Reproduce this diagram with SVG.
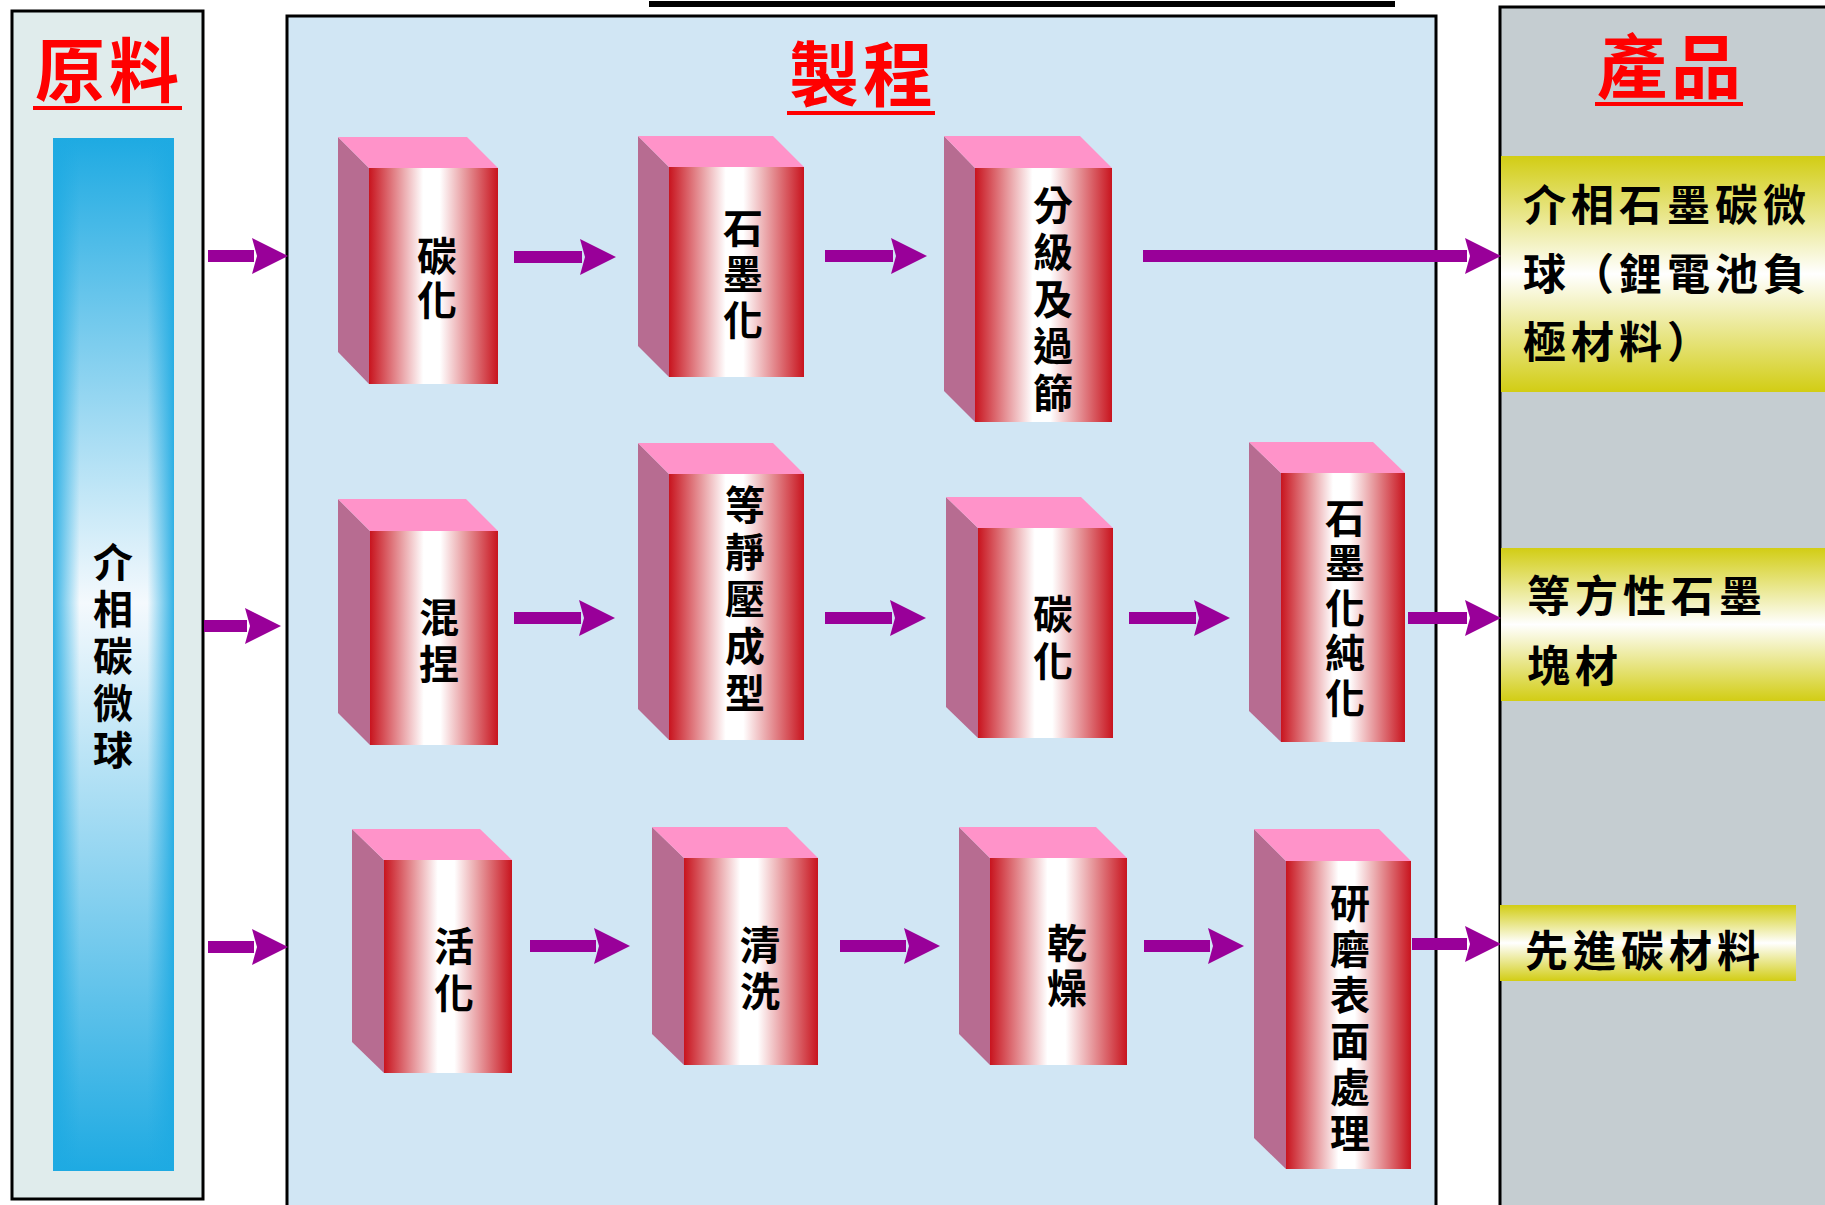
<svg xmlns="http://www.w3.org/2000/svg" width="1825" height="1205" viewBox="0 0 1825 1205">
<defs>
<linearGradient id="front" x1="0" y1="0" x2="1" y2="0">
<stop offset="0" stop-color="#c8141e"/>
<stop offset="0.42" stop-color="#ffffff"/>
<stop offset="0.55" stop-color="#ffffff"/>
<stop offset="1" stop-color="#c8141e"/>
</linearGradient>
<linearGradient id="prod" x1="0" y1="0" x2="0" y2="1">
<stop offset="0" stop-color="#d2cd14"/>
<stop offset="0.5" stop-color="#ffffff"/>
<stop offset="1" stop-color="#d2cd14"/>
</linearGradient>
<linearGradient id="barV" x1="0" y1="0" x2="0" y2="1">
<stop offset="0" stop-color="#1eaae2"/>
<stop offset="0.45" stop-color="#f4f9fd"/>
<stop offset="1" stop-color="#1eaae2"/>
</linearGradient>
<linearGradient id="barH" x1="0" y1="0" x2="1" y2="0">
<stop offset="0" stop-color="#1eaae2" stop-opacity="0.9"/>
<stop offset="0.22" stop-color="#1eaae2" stop-opacity="0"/>
<stop offset="0.78" stop-color="#1eaae2" stop-opacity="0"/>
<stop offset="1" stop-color="#1eaae2" stop-opacity="0.9"/>
</linearGradient>
<marker id="ah" markerUnits="userSpaceOnUse" markerWidth="36" markerHeight="38" refX="2" refY="18" orient="auto" viewBox="0 0 36 36">
<path d="M0,0 L36,18 L0,36 L5,18 Z" fill="#990099"/>
</marker>
<style>
.panel{stroke:#000;stroke-width:3}
.title{font-family:"Noto Sans CJK TC","Noto Sans CJK SC",sans-serif;font-weight:700;font-size:70px;fill:#ff0000;text-anchor:middle;letter-spacing:4px}
.uline{fill:#ff0000}
.side{fill:#b76c91}
.top{fill:#ff93c9}
.front{fill:url(#front)}
.vl{font-family:"Noto Sans CJK TC","Noto Sans CJK SC",sans-serif;font-weight:700;font-size:40px;fill:#000;text-anchor:middle;writing-mode:vertical-rl;letter-spacing:6px}
.ptxt{font-family:"Noto Sans CJK TC","Noto Sans CJK SC",sans-serif;font-weight:700;font-size:43px;fill:#000;letter-spacing:5px}
.conn line{stroke:#990099;stroke-width:12;marker-end:url(#ah)}
.prod{fill:url(#prod)}
</style>
</defs>

<!-- panels -->
<g id="panel-raw">
<rect class="panel" x="12" y="11" width="191" height="1188" fill="#e0ecec"/>
<text class="title" x="109" y="97">原料</text>
<rect class="uline" x="33" y="106" width="149" height="4"/>
</g>
<rect x="649" y="1" width="746" height="6" fill="#000"/>
<g id="panel-process">
<rect class="panel" x="287" y="16" width="1149" height="1192" fill="#d1e6f4" stroke-width="2.5"/>
<text class="title" x="863" y="101">製程</text>
<rect class="uline" x="787" y="111" width="148" height="4"/>
</g>
<g id="panel-product">
<rect class="panel" x="1500" y="7" width="340" height="1210" fill="#c5cdd1"/>
<text class="title" x="1671" y="93">產品</text>
<rect class="uline" x="1595" y="102" width="148" height="4"/>
</g>

<!-- raw material bar -->
<g id="raw-bar">
<rect x="53" y="138" width="121" height="1033" fill="url(#barV)"/>
<rect x="53" y="138" width="121" height="1033" fill="url(#barH)"/>
<text class="vl" x="113" y="659" style="letter-spacing:7px">介相碳微球</text>
</g>

<!-- connectors -->
<g id="connectors" class="conn">
<line x1="208" y1="256" x2="254" y2="256"/>
<line x1="204" y1="626" x2="247" y2="626"/>
<line x1="208" y1="947" x2="254" y2="947"/>
<line x1="514" y1="257" x2="582" y2="257"/>
<line x1="825" y1="256" x2="893" y2="256"/>
<line x1="1143" y1="256" x2="1467" y2="256"/>
<line x1="514" y1="618" x2="581" y2="618"/>
<line x1="825" y1="618" x2="892" y2="618"/>
<line x1="1129" y1="618" x2="1196" y2="618"/>
<line x1="1408" y1="618" x2="1467" y2="618"/>
<line x1="530" y1="946" x2="596" y2="946"/>
<line x1="840" y1="946" x2="906" y2="946"/>
<line x1="1144" y1="946" x2="1210" y2="946"/>
<line x1="1412" y1="944" x2="1467" y2="944"/>
</g>

<!-- process boxes -->
<g id="box-carbonize1">
<polygon class="side" points="338,137 369,168 369,384 338,352"/>
<polygon class="top" points="338,137 467,137 498,168 369,168"/>
<rect class="front" x="369" y="168" width="129" height="216"/>
<text class="vl" x="437" y="280" style="letter-spacing:4px">碳化</text>
</g>
<g id="box-graphitize1">
<polygon class="side" points="638,136 669,167 669,377 638,346"/>
<polygon class="top" points="638,136 773,136 804,167 669,167"/>
<rect class="front" x="669" y="167" width="135" height="210"/>
<text class="vl" x="743" y="277">石墨化</text>
</g>
<g id="box-classify">
<polygon class="side" points="944,136 975,168 975,422 944,391"/>
<polygon class="top" points="944,136 1080,136 1112,168 975,168"/>
<rect class="front" x="975" y="168" width="137" height="254"/>
<text class="vl" x="1053" y="302" style="letter-spacing:7px">分級及過篩</text>
</g>
<g id="box-knead">
<polygon class="side" points="338,499 370,531 370,745 338,713"/>
<polygon class="top" points="338,499 466,499 498,531 370,531"/>
<rect class="front" x="370" y="531" width="128" height="214"/>
<text class="vl" x="439" y="644" style="letter-spacing:7px">混捏</text>
</g>
<g id="box-isostatic">
<polygon class="side" points="638,443 669,474 669,740 638,709"/>
<polygon class="top" points="638,443 773,443 804,474 669,474"/>
<rect class="front" x="669" y="474" width="135" height="266"/>
<text class="vl" x="745" y="602" style="letter-spacing:7px">等靜壓成型</text>
</g>
<g id="box-carbonize2">
<polygon class="side" points="946,497 978,528 978,738 946,707"/>
<polygon class="top" points="946,497 1081,497 1113,528 978,528"/>
<rect class="front" x="978" y="528" width="135" height="210"/>
<text class="vl" x="1053" y="641" style="letter-spacing:7px">碳化</text>
</g>
<g id="box-purify">
<polygon class="side" points="1249,442 1281,473 1281,742 1249,711"/>
<polygon class="top" points="1249,442 1373,442 1405,473 1281,473"/>
<rect class="front" x="1281" y="473" width="124" height="269"/>
<text class="vl" x="1345" y="610" style="letter-spacing:5px">石墨化純化</text>
</g>
<g id="box-activate">
<polygon class="side" points="352,829 384,860 384,1073 352,1042"/>
<polygon class="top" points="352,829 480,829 512,860 384,860"/>
<rect class="front" x="384" y="860" width="128" height="213"/>
<text class="vl" x="454" y="973" style="letter-spacing:7px">活化</text>
</g>
<g id="box-wash">
<polygon class="side" points="652,827 684,858 684,1065 652,1034"/>
<polygon class="top" points="652,827 787,827 818,858 684,858"/>
<rect class="front" x="684" y="858" width="134" height="207"/>
<text class="vl" x="760" y="971">清洗</text>
</g>
<g id="box-dry">
<polygon class="side" points="959,827 990,858 990,1065 959,1034"/>
<polygon class="top" points="959,827 1096,827 1127,858 990,858"/>
<rect class="front" x="990" y="858" width="137" height="207"/>
<text class="vl" x="1067" y="968" style="letter-spacing:5px">乾燥</text>
</g>
<g id="box-grind">
<polygon class="side" points="1254,829 1286,861 1286,1169 1254,1138"/>
<polygon class="top" points="1254,829 1379,829 1411,861 1286,861"/>
<rect class="front" x="1286" y="861" width="125" height="308"/>
<text class="vl" x="1350" y="1021" style="letter-spacing:6px">研磨表面處理</text>
</g>

<!-- products -->
<g id="product-mcmb">
<rect class="prod" x="1501" y="156" width="324" height="236"/>
<text class="ptxt"><tspan x="1523" y="221">介相石墨碳微</tspan><tspan x="1523" y="290">球（鋰電池負</tspan><tspan x="1523" y="358">極材料）</tspan></text>
</g>
<g id="product-isographite">
<rect class="prod" x="1501" y="548" width="324" height="153"/>
<text class="ptxt"><tspan x="1527" y="612">等方性石墨</tspan><tspan x="1527" y="682">塊材</tspan></text>
</g>
<g id="product-advanced">
<rect class="prod" x="1500" y="905" width="296" height="76"/>
<text class="ptxt" x="1525" y="967">先進碳材料</text>
</g>
</svg>
